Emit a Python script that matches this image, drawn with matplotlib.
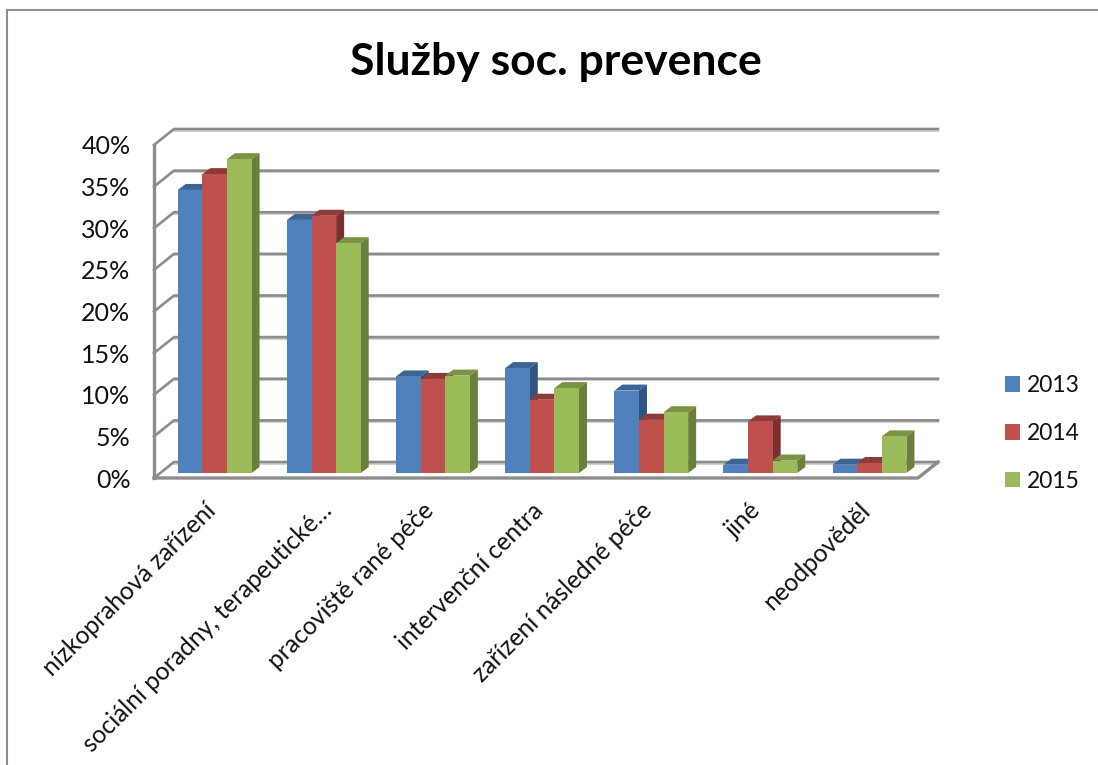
import matplotlib
matplotlib.use("Agg")
import matplotlib.pyplot as plt

plt.rcParams['font.family'] = ['Lato', 'DejaVu Sans']

kategorie = ['nízkoprahová zařízení', 'sociální poradny, terapeutické…', 'pracoviště rané péče',
             'intervenční centra', 'zařízení následné péče', 'jiné', 'neodpověděl']
hodnoty_2013 = [34.0, 30.4, 11.6, 12.6, 9.9, 1.0, 1.0]
hodnoty_2014 = [35.9, 30.9, 11.3, 8.8, 6.4, 6.2, 1.2]
hodnoty_2015 = [37.7, 27.6, 11.7, 10.2, 7.3, 1.5, 4.4]
roky = ['2013', '2014', '2015']
procenta = [0, 5, 10, 15, 20, 25, 30, 35, 40]

barvy = ['#4F81BD', '#C0504D', '#9BBB59']
barvy_vrch = ['#3A6595', '#8E3A38', '#7A9444']
barvy_bok = ['#2F5480', '#7C302E', '#697F3C']

W, H = 1098, 765
fig = plt.figure(figsize=(W / 100, H / 100), dpi=100)
ax = fig.add_axes([154 / W, 1 - 478 / H, 764 / W, 333 / H])
ax.set_xlim(-0.5, 6.5)
ax.set_ylim(0, 40)

# prevod pixelu na jednotky os
px_x = 7 / 764
px_y = 40 / 333

# hloubka steny grafu
hl_x = 20 * px_x
hl_y = 16 * px_y
x0, x1 = ax.get_xlim()

seda = '#8C8C8C'
for p in procenta:
    ax.plot([x0 + hl_x, x1 + hl_x], [p + hl_y - 1.6 * px_y] * 2, color='#D0D0D0', lw=1.4, clip_on=False, zorder=1)
    ax.plot([x0, x0 + hl_x, x1 + hl_x], [p, p + hl_y, p + hl_y], color=seda, lw=1.9, clip_on=False, zorder=1.1)

# leva stena a predni hrana podlahy
ax.plot([x0, x0], [0, 40], color=seda, lw=2.4, clip_on=False, zorder=1.2)
ax.plot([x0, x1, x1 + hl_x], [0, 0, hl_y], color=seda, lw=2.4, clip_on=False, zorder=1.2)

# sloupce
sirka = 24.6 * px_x
posun_x = 6.1 * px_x
posun_y = 5 * px_y
hloubka_x = 8 * px_x
hloubka_y = 6 * px_y

serie = [hodnoty_2013, hodnoty_2014, hodnoty_2015]
z = 2
for i in range(len(kategorie)):
    for j, hodnoty in enumerate(serie):
        v = hodnoty[i]
        levy = i + (j - 1.5) * sirka + posun_x
        pravy = levy + sirka
        dole = posun_y
        nahore = posun_y + v
        ax.fill([levy, pravy, pravy + hloubka_x, levy + hloubka_x],
                [nahore, nahore, nahore + hloubka_y, nahore + hloubka_y],
                color=barvy_vrch[j], lw=0, clip_on=False, zorder=z)
        ax.fill([pravy, pravy + hloubka_x, pravy + hloubka_x, pravy],
                [dole, dole + hloubka_y, nahore + hloubka_y, nahore],
                color=barvy_bok[j], lw=0, clip_on=False, zorder=z)
        ax.bar(levy, v, sirka, bottom=dole, align='edge', color=barvy[j], lw=0, clip_on=False, zorder=z + 0.5)
        z += 1

for s in ax.spines.values():
    s.set_visible(False)
ax.patch.set_visible(False)

# popisky kategorii trochu doleva, druhy je delsi a sedi jinak
posuny_popisku = [-5, 2, -5, -5, -5, -5, -5]
ax.set_yticks(procenta, [f'{p}%' for p in procenta], fontsize=18, color='#111111')
ax.set_xticks([i + posuny_popisku[i] * px_x for i in range(len(kategorie))], kategorie, rotation=45, ha='right',
              rotation_mode='anchor', fontsize=17.7, color='#111111')
ax.tick_params(axis='y', length=0, pad=17)
ax.tick_params(axis='x', length=0, pad=15)

fig.text(556 / W, 1 - 62 / H, 'Služby soc. prevence', fontsize=32, fontweight='bold', ha='center', va='center',
         color='black')

# legenda
for j, rok in enumerate(roky):
    ax.bar(0, 0, color=barvy[j], label=rok)
fig.legend(loc='center left', bbox_to_anchor=(1005 / W, 1 - 433.5 / H), frameon=False, fontsize=16.5,
           handlelength=0.65, handleheight=0.65, handletextpad=0.3, labelspacing=1.17, labelcolor='#111111',
           borderpad=0, borderaxespad=0)

# ramecek grafu
fig.add_artist(plt.Line2D([7 / W, 7 / W], [0, 1 - 10 / H], color='#8E8E8E', lw=1.5))
fig.add_artist(plt.Line2D([7 / W, 1], [1 - 10 / H, 1 - 10 / H], color='#8E8E8E', lw=1.5))

fig.savefig('out.png', dpi=100)
